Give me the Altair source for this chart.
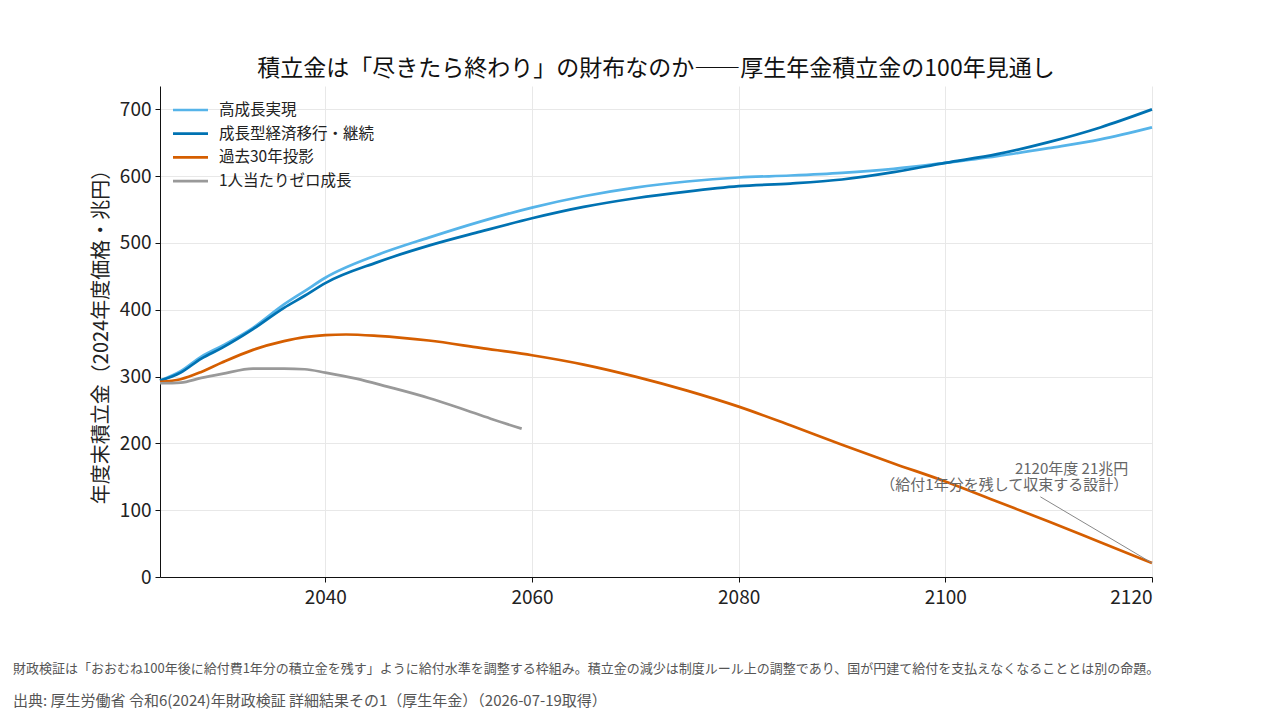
import altair as alt
import pandas as pd

FONT = "Noto Sans CJK JP"

# Scenario names in legend order
scenarios = ["高成長実現", "成長型経済移行・継続", "過去30年投影", "1人当たりゼロ成長"]
colors = ["#56B4E9", "#0072B2", "#D55E00", "#999999"]

# Year-end reserve (trillion yen, FY2024 prices)
years_growth = [2024, 2026, 2028, 2030, 2033, 2036, 2038, 2040, 2045, 2050, 2055, 2060,
                2065, 2070, 2075, 2080, 2085, 2090, 2095, 2100, 2105, 2110, 2115, 2120]
high_growth = [294, 308, 330, 346, 373, 408, 428, 448, 482, 508, 532, 553,
               570, 583, 592, 598, 601, 605, 611, 620, 630, 642, 655, 673]
growth_transition = [294, 306, 327, 343, 371, 403, 421, 440, 471, 496, 517, 537,
                     554, 567, 577, 585, 589, 595, 606, 620, 633, 651, 673, 700]

years_past30 = [2024, 2026, 2028, 2030, 2033, 2036, 2038, 2040, 2042, 2045, 2050, 2055, 2060,
                2065, 2070, 2075, 2080, 2085, 2090, 2095, 2100, 2105, 2110, 2115, 2120]
past30 = [292, 296, 307, 321, 340, 353, 359, 362, 363, 361, 354, 343, 332,
          318, 300, 279, 255, 227, 198, 170, 143, 113, 83, 52, 21]

years_zero = [2024, 2026, 2028, 2030, 2033, 2036, 2038, 2040, 2043, 2046, 2050, 2053, 2056, 2059]
zero_growth = [290, 291, 298, 304, 312, 312, 311, 306, 297, 285, 268, 253, 237, 222]

y_ticks = [0, 100, 200, 300, 400, 500, 600, 700]
x_ticks = [2040, 2060, 2080, 2100, 2120]

rows = []
for name, ys, vs in [
    (scenarios[0], years_growth, high_growth),
    (scenarios[1], years_growth, growth_transition),
    (scenarios[2], years_past30, past30),
    (scenarios[3], years_zero, zero_growth),
]:
    for y, v in zip(ys, vs):
        rows.append({"year": y, "value": v, "scenario": name})
df = pd.DataFrame(rows)

x_scale = alt.Scale(domain=[2024, 2120], nice=False, zero=False)
y_scale = alt.Scale(domain=[0, 735], nice=False)
color_scale = alt.Scale(domain=scenarios, range=colors)

lines = alt.Chart(df).mark_line(strokeWidth=2.7, interpolate="monotone").encode(
    x=alt.X("year:Q", scale=x_scale,
            axis=alt.Axis(values=x_ticks, format="d", title=None, grid=True)),
    y=alt.Y("value:Q", scale=y_scale,
            axis=alt.Axis(values=y_ticks, title="年度末積立金（2024年度価格・兆円）", grid=True)),
    color=alt.Color("scenario:N", scale=color_scale, legend=None),
    detail="scenario:N",
    order="year:Q",
)

# Legend key in the upper-left corner of the plot, one row per scenario
legend_layers = []
ROW0, ROW_STEP = 24, 23.7
for i, (name, col) in enumerate(zip(scenarios, colors)):
    row_y = ROW0 + i * ROW_STEP
    key = pd.DataFrame({"scenario": [name]})
    legend_layers.append(
        alt.Chart(key).mark_rule(strokeWidth=2.7, color=col).encode(
            x=alt.value(13), x2=alt.value(48), y=alt.value(row_y)))
    legend_layers.append(
        alt.Chart(key).mark_text(font=FONT, fontSize=15.5, color="#222222",
                                 align="left", baseline="middle").encode(
            x=alt.value(59), y=alt.value(row_y), text="scenario:N"))

# Endpoint note for the 2120 value
note_label = ["2120年度 21兆円", "（給付1年分を残して収束する設計）"]
note_df = pd.DataFrame({"year": [2117.7], "value": [161], "label": [note_label]})
note = alt.Chart(note_df).mark_text(
    font=FONT, fontSize=15, color="#666666", align="right", baseline="middle", lineHeight=16
).encode(x=alt.X("year:Q", scale=x_scale), y=alt.Y("value:Q", scale=y_scale), text="label")

leader_df = pd.DataFrame({"year": [2109.2], "value": [120], "year2": [2120], "value2": [21]})
leader = alt.Chart(leader_df).mark_rule(color="#888888", strokeWidth=1).encode(
    x=alt.X("year:Q", scale=x_scale), y=alt.Y("value:Q", scale=y_scale),
    x2="year2:Q", y2="value2:Q",
)

footnote = "財政検証は「おおむね100年後に給付費1年分の積立金を残す」ように給付水準を調整する枠組み。積立金の減少は制度ルール上の調整であり、国が円建て給付を支払えなくなることとは別の命題。"
source = "出典: 厚生労働省 令和6(2024)年財政検証 詳細結果その1（厚生年金）（2026-07-19取得）"

foot1 = alt.Chart(pd.DataFrame({"t": [footnote]})).mark_text(
    font=FONT, fontSize=13, color="#555555", align="left", baseline="middle"
).encode(x=alt.value(-147), y=alt.value(583), text="t")
foot2 = alt.Chart(pd.DataFrame({"t": [source]})).mark_text(
    font=FONT, fontSize=15, color="#555555", align="left", baseline="middle"
).encode(x=alt.value(-147), y=alt.value(615), text="t")

chart = alt.layer(lines, leader, note, foot1, foot2, *legend_layers).properties(
    width=992,
    height=491,
    autosize=alt.AutoSizeParams(type="none"),
    padding={"left": 160, "top": 86, "right": 128, "bottom": 144},
    title=alt.Title("積立金は「尽きたら終わり」の財布なのか――厚生年金積立金の100年見通し",
                    font=FONT, fontSize=23, fontWeight="normal", color="#111111",
                    anchor="middle", offset=5),
).configure_view(stroke=None).configure_axis(
    labelFont=FONT, titleFont=FONT, labelFontSize=19, titleFontSize=20,
    labelColor="#222222", titleColor="#222222", titleFontWeight="normal",
    domainColor="#111111", tickColor="#111111", tickSize=5,
    gridColor="#e8e8e8", gridWidth=1,
).configure_axisY(titlePadding=8, labelPadding=4).configure_axisX(labelPadding=6)

chart.save("out.html", embed_options={"renderer": "svg", "actions": False})
